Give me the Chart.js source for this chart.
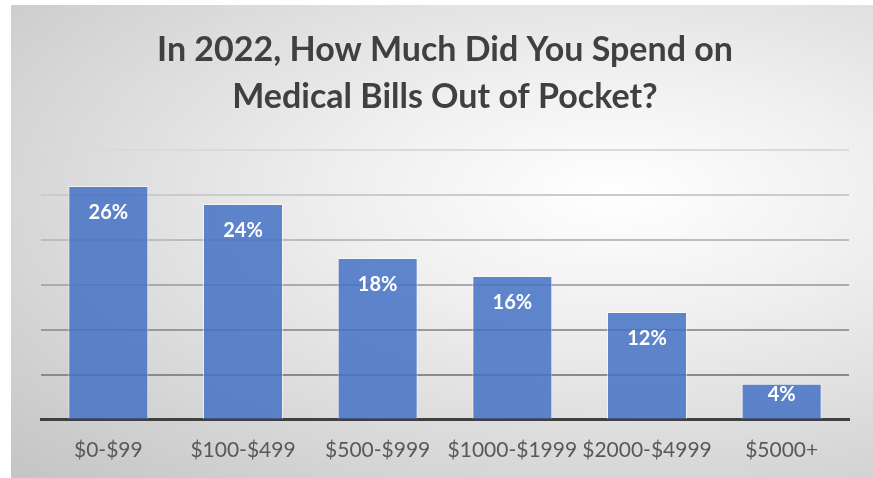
<!DOCTYPE html>
<html>
<head>
<meta charset="utf-8">
<script src="https://cdn.jsdelivr.net/npm/chart.js@4.4.0/dist/chart.umd.min.js"></script>
<style>
  html, body { margin: 0; padding: 0; background: #fff; }
  #panel {
    position: absolute; left: 11px; top: 5px; width: 862px; height: 473px;
    background: radial-gradient(ellipse farthest-corner at 70% 40%, #ffffff 0%, #f0f0f0 30%, #c4c4c4 100%);
  }
</style>
</head>
<body>
<div id="panel"><canvas id="chart" width="862" height="473"></canvas></div>
<script>
const categories = ['$0-$99', '$100-$499', '$500-$999', '$1000-$1999', '$2000-$4999', '$5000+'];
const shares = [26, 24, 18, 16, 12, 4];
const titleLines = ['In 2022, How Much Did You Spend on', 'Medical Bills Out of Pocket?'];

// gridlines fade out toward the top
const gridShades = ['#8a8a8a', '#9a9a9a', '#ababab', '#bcbcbc', '#cbcbcb', '#dadada'];

const valueLabels = {
  id: 'valueLabels',
  afterDatasetsDraw(chart) {
    const ctx = chart.ctx;
    const meta = chart.getDatasetMeta(0);
    ctx.save();
    ctx.fillStyle = '#ffffff';
    ctx.font = 'bold 20px Lato';
    ctx.textAlign = 'center';
    ctx.textBaseline = 'middle';
    meta.data.forEach((bar, i) => {
      const h = bar.base - bar.y;
      const off = Math.min(27, h * 0.3);
      ctx.fillText(shares[i] + '%', bar.x, bar.y + off);
    });
    ctx.restore();
  }
};

new Chart(document.getElementById('chart'), {
  type: 'bar',
  data: {
    labels: categories,
    datasets: [{
      data: shares,
      backgroundColor: 'rgba(68,114,196,0.85)',
      borderColor: 'rgba(255,255,255,0.55)',
      borderWidth: 1,
      barPercentage: 0.594,
      categoryPercentage: 1
    }]
  },
  options: {
    responsive: false,
    maintainAspectRatio: false,
    animation: false,
    layout: { padding: { left: 30, right: 24, top: 0, bottom: 5 } },
    plugins: {
      legend: { display: false },
      tooltip: { enabled: false },
      title: {
        display: true,
        text: titleLines,
        color: '#404040',
        font: { family: 'Lato', size: 34, weight: 'bold', lineHeight: '47px' },
        padding: { top: 22, bottom: 29 }
      }
    },
    scales: {
      x: {
        grid: { display: false },
        border: { display: true, color: '#404040', width: 3 },
        ticks: {
          color: '#595959',
          font: { family: 'Lato', size: 21 },
          padding: 10,
          maxRotation: 0,
          minRotation: 0,
          autoSkip: false
        }
      },
      y: {
        min: 0, max: 30,
        ticks: { display: false, stepSize: 5 },
        border: { display: false },
        grid: {
          lineWidth: 2,
          drawTicks: false,
          color: c => c.tick.value === 0 ? 'rgba(0,0,0,0)' : gridShades[c.index - 1]
        }
      }
    }
  },
  plugins: [valueLabels]
});
</script>
</body>
</html>
